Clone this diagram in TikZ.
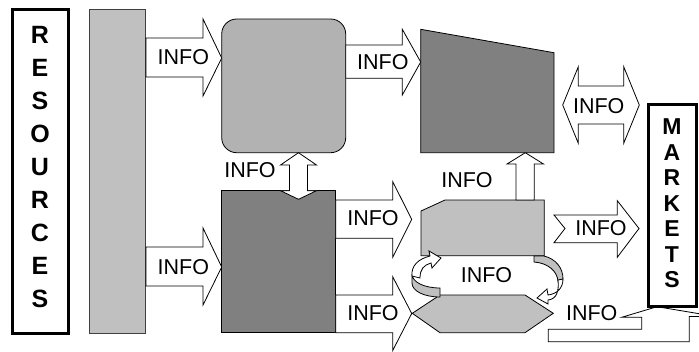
\documentclass[tikz,border=0pt]{standalone}
\usepackage{fontspec}
\setmainfont{Liberation Sans}
\definecolor{lgray}{HTML}{C0C0C0}
\definecolor{mgray}{HTML}{B2B2B2}
\definecolor{dgray}{HTML}{808080}
\begin{document}
\begin{tikzpicture}[x=1pt,y=-1pt,line join=miter,
  shp/.style={draw=black,line width=0.8pt},
  barr/.style={draw=black,fill=white,line width=0.8pt},
  lab/.style={font=\fontsize{21.5}{21.5}\selectfont,inner sep=0pt},
  endbox/.style={draw=black,fill=white,line width=3pt},
  vtext/.style={font=\bfseries\fontsize{#1}{#1}\selectfont,inner sep=0pt}]
\useasboundingbox (0,0) rectangle (699,351);
% resources
\draw[endbox] (12,9.5) rectangle (68,333);
\foreach \l [count=\i from 0] in {R,E,S,O,U,R,C,E,S}
  \node[vtext=25] (res\i) at (40,{35+33*\i}) {\l};
% left bar
\draw[shp,fill=lgray,draw=black!75] (89,9.5) rectangle (145.7,333);
% arrows from bar
\draw[barr] (146,38) -- (203,38) -- (203,19) -- (221.7,58) -- (203,96) -- (203,77) -- (146,77) -- cycle;
\draw[barr] (146,247) -- (203,247) -- (203,228) -- (221.7,267) -- (203,305) -- (203,286) -- (146,286) -- cycle;
% top rounded box
\draw[shp,fill=mgray,rounded corners=15pt] (221.7,19) rectangle (345.7,152.7);
% arrow to trapezoid
\draw[barr] (345.7,45) -- (402.3,45) -- (402.3,29.3) -- (420.7,62) -- (402.3,95) -- (402.3,78.3) -- (345.7,78.3) -- cycle;
% trapezoid
\draw[shp,fill=dgray] (420.7,29.3) -- (554,52.7) -- (554,152.7) -- (420.7,152.7) -- cycle;
% double arrow
\draw[barr] (562.7,105) -- (578.3,66.7) -- (578.3,86) -- (623.7,86) -- (623.7,66.7) -- (639.3,105) -- (623.7,143.3) -- (623.7,124) -- (578.3,124) -- (578.3,143.3) -- cycle;
% dark middle box
\draw[shp,fill=dgray] (221.7,190.7) rectangle (335.7,332.7);
% vertical double arrow
\draw[barr] (298.5,152.7) -- (316.5,165) -- (307.5,165) -- (307.5,190.7) -- (316.5,190.7) -- (298.5,199.3) -- (280.5,190.7) -- (289.5,190.7) -- (289.5,165) -- (280.5,165) -- cycle;
% arrows from dark box
\draw[barr] (335.7,200) -- (392.7,200) -- (392.7,181.7) -- (411.7,219.3) -- (392.7,257.3) -- (392.7,238.3) -- (335.7,238.3) -- cycle;
\draw[barr] (335.7,295) -- (392.7,295) -- (392.7,276.7) -- (411.7,313.5) -- (392.7,350.5) -- (392.7,332.7) -- (335.7,332.7) -- cycle;
% pentagon
\draw[shp,fill=lgray] (421,211) -- (445,200) -- (544.3,200) -- (544.3,255.7) -- (421,255.7) -- cycle;
% up arrow
\draw[barr] (525.3,152.7) -- (543.5,164) -- (534.3,164) -- (534.3,200) -- (516,200) -- (516,164) -- (507,164) -- cycle;
% notched arrow to markets
\draw[barr] (554,215) -- (617.3,215) -- (617.3,200.7) -- (639,228.5) -- (617.3,257.3) -- (617.3,242.7) -- (554,242.7) -- (565,228.5) -- cycle;
% hexagon
\draw[shp,fill=lgray] (412.3,313.3) -- (440,295) -- (525,295) -- (553.3,313.3) -- (525,332.7) -- (440,332.7) -- cycle;
% left circular arrow
\draw[shp,fill=lgray] (440,288) .. controls (424,288) and (412,282) .. (412,274) -- (412,283) .. controls (412,291) and (424,297) .. (440,297) -- cycle;
\draw[barr] (412,276) .. controls (411,266) and (418,259) .. (430,256) -- (429,251) -- (441,258) -- (432,268) -- (431,263) .. controls (424,265) and (420,269) .. (420,278) -- cycle;
% right circular arrow
\draw[shp,fill=lgray] (534,256) -- (544,256) .. controls (556,259) and (563,268) .. (563,279) -- (558,281) .. controls (557,271) and (548,263) .. (534,262) -- cycle;
\draw[barr] (563,279) .. controls (563,289) and (556,294) .. (548,295) -- (547,289) -- (537,298) -- (548,304) -- (548,300) .. controls (557,299) and (559,291) .. (558,280) -- cycle;
% bottom right bent arrow
\draw[barr] (548.3,329.3) -- (641.7,329.3) -- (641.7,317.3) -- (621.7,317.3) -- (657,306.7) -- (716,316.5) -- (689.3,316.5) -- (689.3,341.7) -- (548.3,341.7) -- cycle;
% markets
\draw[endbox] (648,104.5) rectangle (696.5,306);
\foreach \l [count=\i from 0] in {M,A,R,K,E,T,S}
  \node[vtext=23] (mkt\i) at (672,{127+25.5*\i}) {\l};
% labels
\node[lab] (i1) at (183.3,57.5) {INFO};
\node[lab] (i2) at (183.3,266.7) {INFO};
\node[lab] (i3) at (382.8,61.7) {INFO};
\node[lab] (i4) at (598.7,106) {INFO};
\node[lab] (i5) at (250,170) {INFO};
\node[lab] (i6) at (467,180) {INFO};
\node[lab] (i7) at (373,218) {INFO};
\node[lab] (i8) at (373,313) {INFO};
\node[lab] (i9) at (601,228) {INFO};
\node[lab] (i10) at (486.5,275) {INFO};
\node[lab] (i11) at (591.7,312.7) {INFO};
\end{tikzpicture}
\end{document}
